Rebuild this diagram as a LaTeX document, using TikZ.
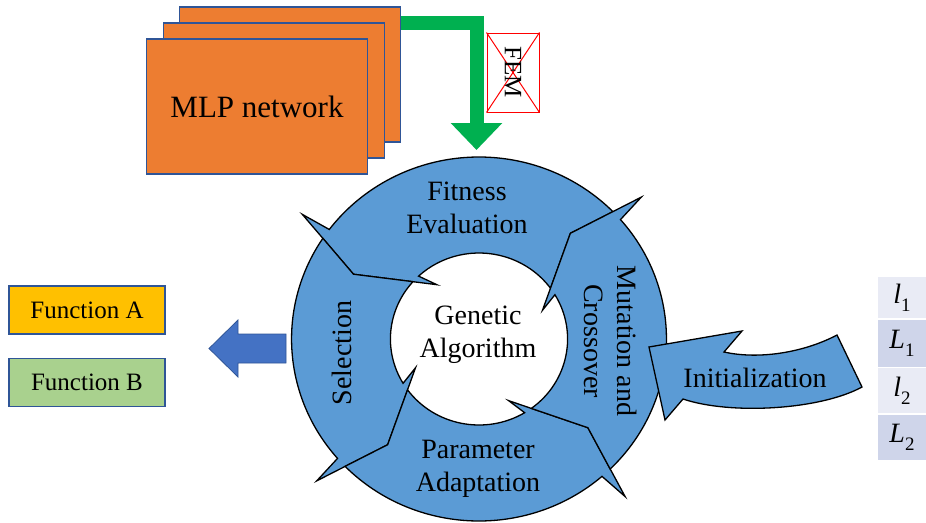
\documentclass[tikz,border=0pt]{standalone}
\usepackage{fontspec}
\setmainfont{Liberation Serif}
\usetikzlibrary{arrows.meta}

\definecolor{ringblue}{HTML}{5B9BD5}
\definecolor{mlporange}{HTML}{ED7D31}
\definecolor{edgeblue}{HTML}{2F5597}
\definecolor{flowgreen}{HTML}{00B050}
\definecolor{outblue}{HTML}{4472C4}
\definecolor{funcA}{HTML}{FFC000}
\definecolor{funcB}{HTML}{A9D18E}
\definecolor{cellLight}{HTML}{E9EBF5}
\definecolor{cellDark}{HTML}{CFD5EA}

% one curved block arrow of the cycle, from the head at #1 to the head at #2 (degrees)
\newcommand\ringpiece[2]{%
  \draw[ringseg] ({#1-5.6}:182) arc[start angle={#1-5.6}, end angle={#2-9}, radius=182]
    -- ({#2-8}:212) -- (#2:138) -- ({#2-25}:68) -- ({#2-19}:86)
    arc[start angle={#2-19}, end angle={#1-13.8}, radius=86] -- (#1:138) -- cycle;}

% italic symbol with a lowered index
\newcommand\symidx[2]{\textit{#1}\raisebox{-0.3em}{\fontsize{19}{19}\selectfont #2}}

\begin{document}
\begin{tikzpicture}[x=1pt,y=-1pt,
  ringseg/.style={fill=ringblue, draw=black, line width=1.3pt, line join=miter},
  ringtext/.style={font=\fontsize{28}{33}\selectfont, align=center, inner sep=0},
  mlpbox/.style={fill=mlporange, draw=edgeblue, line width=1.6pt,
    minimum width=221pt, minimum height=135pt, inner sep=0},
  funcbox/.style={draw=edgeblue, line width=1.5pt, minimum width=156pt,
    minimum height=48pt, inner sep=0, font=\fontsize{25}{30}\selectfont},
  cell/.style={minimum width=48pt, inner sep=0, font=\fontsize{28}{30}\selectfont},
]
\useasboundingbox (0,0) rectangle (926,522);

% stacked MLP networks
\node[mlpbox] (mlpC) at (290,74.5) {};
\node[mlpbox] (mlpB) at (274,90.5) {};
\node[mlpbox, font=\fontsize{31}{36}\selectfont] (mlpA) at (257,106.5) {MLP network};

% green flow into the cycle
\coordinate (gturn) at (476.5,22.5);
\coordinate (gtip) at (476.5,150);
\draw[flowgreen, line width=14pt, line join=miter,
  -{Triangle[width=50pt,length=27pt]}] (mlpC.east |- gturn) -- (gturn) -- (gtip);

% crossed-out FEM
\node[draw=red, line width=1pt, minimum width=52pt, minimum height=79pt, inner sep=0]
  (fem) at (513,72.5) {};
\draw[red, line width=1pt] (fem.north west) -- (fem.south east)
  (fem.north east) -- (fem.south west);
\node[rotate=-90, inner sep=0, font=\fontsize{25}{30}\selectfont] (femtxt) at (fem.center) {FEM};

% the genetic algorithm cycle
\begin{scope}[shift={(479,339)}, yscale=-1, xscale=1.03]
  \ringpiece{50}{152}
  \ringpiece{152}{230}
  \ringpiece{230}{320}
  \ringpiece{320}{410}
\end{scope}

\node[ringtext] (fit) at (467,208) {Fitness\\Evaluation};
\node[ringtext] (ga) at (478,335) {Genetic\\Algorithm};
\node[ringtext, rotate=90] (sel) at (342,353) {Selection};
\node[ringtext, rotate=-90] (mut) at (611,341) {Mutation and\\Crossover};
\node[ringtext] (par) at (478,469) {Parameter\\Adaptation};

% initialization arrow entering the cycle
\draw[ringseg] (649,347) -- (742,331) -- (724,352)
  .. controls (760,360) and (805,352) .. (837,335) -- (862,387)
  .. controls (820,410) and (730,415) .. (683,399) -- (665,420) -- cycle;
\node[ringtext] (init) at (755,378) {Initialization};

% output arrow
\draw[fill=outblue, draw=edgeblue, line width=0.8pt, line join=miter]
  (209,348.5) -- (238,320) -- (238,334) -- (286,334) -- (286,363) -- (238,363)
  -- (238,377) -- cycle;

% functions
\node[funcbox, fill=funcA] (fa) at (87,310) {Function A};
\node[funcbox, fill=funcB] (fb) at (87,382.5) {Function B};

% parameters
\node[cell, fill=cellLight, minimum height=41pt] (p1) at (902,297.5) {\symidx{l}{1}};
\node[cell, fill=cellDark, minimum height=47pt] (p2) at (902,343.5) {\symidx{L}{1}};
\node[cell, fill=cellLight, minimum height=45pt] (p3) at (902,390.5) {\symidx{l}{2}};
\node[cell, fill=cellDark, minimum height=45pt] (p4) at (902,437.5) {\symidx{L}{2}};
\end{tikzpicture}
\end{document}
